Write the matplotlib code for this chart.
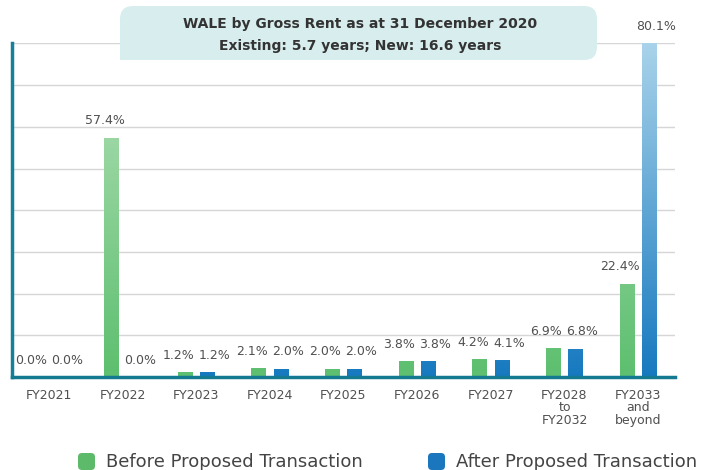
import numpy as np
import matplotlib
matplotlib.use("Agg")
import matplotlib.pyplot as plt
from matplotlib.patches import FancyBboxPatch, Rectangle
from matplotlib.colors import to_rgb

# ---- data ----
categories = ["FY2021", "FY2022", "FY2023", "FY2024", "FY2025", "FY2026",
              "FY2027", "FY2028\nto\nFY2032", "FY2033\nand\nbeyond"]
before = [0.0, 57.4, 1.2, 2.1, 2.0, 3.8, 4.2, 6.9, 22.4]
after = [0.0, 0.0, 1.2, 2.0, 2.0, 3.8, 4.1, 6.8, 80.1]
series_names = ["Before Proposed Transaction", "After Proposed Transaction"]
title_lines = ["WALE by Gross Rent as at 31 December 2020",
               "Existing: 5.7 years; New: 16.6 years"]

plt.rcParams['font.family'] = ['DejaVu Sans']

W, H = 704, 470
fig = plt.figure(figsize=(W / 100, H / 100), dpi=100)
ax_left, ax_right, ax_bottom, ax_top = 12, 675, 377, 43
ax = fig.add_axes([ax_left / W, 1 - ax_bottom / H, (ax_right - ax_left) / W,
                   (ax_bottom - ax_top) / H])

YTOP = 80.1
x = np.arange(len(categories))
bw = 0.2
off = 0.15
lab_off = 0.245

green_bot, green_top = to_rgb("#5dbf6f"), to_rgb("#b3e0b8")
blue_bot, blue_top = to_rgb("#1679bf"), to_rgb("#a9d3ea")


def grad(c0, c1):
    t = np.linspace(0, 1, 256)[:, None, None]
    return (np.array(c0)[None, None, :] * (1 - t) + np.array(c1)[None, None, :] * t)


for vals, sign, c0, c1 in [(before, -1, green_bot, green_top),
                           (after, 1, blue_bot, blue_top)]:
    bars = ax.bar(x + sign * off, vals, width=bw, color=c0, zorder=2,
                  linewidth=0)
    g = grad(c0, c1)
    for b in bars:
        if b.get_height() <= 0:
            continue
        im = ax.imshow(g, origin="lower", aspect="auto",
                       extent=[b.get_x(), b.get_x() + b.get_width(), 0, YTOP],
                       zorder=3, interpolation="bilinear")
        im.set_clip_path(b)
    for xi, v in zip(x, vals):
        ax.annotate(f"{v:.1f}%", (xi + sign * lab_off, v), xytext=(0, 12),
                    textcoords="offset points", ha="center", va="center",
                    fontsize=9, color="#505050", annotation_clip=False)

ax.set_xlim(-0.5, len(categories) - 0.5)
ax.set_ylim(0, YTOP)
ax.set_yticks(np.arange(10, 81, 10))
ax.yaxis.grid(True, color="#d6d6d6", linewidth=1.0)
ax.set_axisbelow(True)
ax.tick_params(axis="y", left=False, labelleft=False)
ax.tick_params(axis="x", bottom=False, pad=5)
ax.set_xticks(x)
ax.set_xticklabels(categories, fontsize=9, color="#505050", linespacing=0.95)
for s in ["top", "right"]:
    ax.spines[s].set_visible(False)
ax.spines["left"].set_color("#15809a")
ax.spines["left"].set_linewidth(2.5)
ax.spines["bottom"].set_color("#137a92")
ax.spines["bottom"].set_linewidth(2.5)
ax.spines["bottom"].set_zorder(4)

# title box (in inches via dpi_scale_trans)
bx0, bx1, by0, by1 = 120, 597, 60, 6
box = FancyBboxPatch((bx0 / 100, (H - by0) / 100), (bx1 - bx0) / 100,
                     (by0 - by1) / 100, boxstyle="round,pad=0,rounding_size=0.13",
                     transform=fig.dpi_scale_trans, facecolor="#d8eded",
                     edgecolor="none", zorder=5)
fig.add_artist(box)
sq = Rectangle((bx0 / 100, (H - by0) / 100), 0.15, 0.15,
               transform=fig.dpi_scale_trans, facecolor="#d8eded",
               edgecolor="none", zorder=5)
fig.add_artist(sq)
fig.text(360 / W, 1 - 24 / H, title_lines[0], ha="center", va="center",
         fontsize=10, fontweight="bold", color="#333333", zorder=6)
fig.text(360 / W, 1 - 46 / H, title_lines[1], ha="center", va="center",
         fontsize=10, fontweight="bold", color="#333333", zorder=6)

# legend
leg_cols = ["#5dba6a", "#1a77bd"]
leg_x = [78, 428]
for lx, col, name in zip(leg_x, leg_cols, series_names):
    p = FancyBboxPatch((lx / 100, (H - 470) / 100), 0.17, 0.17,
                       boxstyle="round,pad=0,rounding_size=0.04",
                       transform=fig.dpi_scale_trans, facecolor=col,
                       edgecolor="none")
    fig.add_artist(p)
    fig.text((lx + 28) / W, 1 - 462 / H, name, ha="left", va="center",
             fontsize=13, color="#444444")

fig.savefig("out.png", dpi=100)
